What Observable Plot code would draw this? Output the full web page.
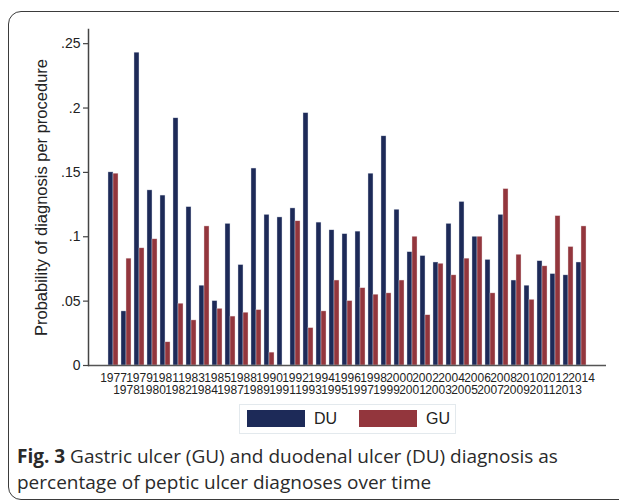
<!DOCTYPE html>
<html><head><meta charset="utf-8">
<script src="https://cdn.jsdelivr.net/npm/d3@7"></script>
<script src="https://cdn.jsdelivr.net/npm/@observablehq/plot@0.6"></script>
<style>
body{margin:0;background:#fff;width:619px;height:504px;overflow:hidden;position:relative;font-family:"Liberation Sans",Arial,sans-serif;}
#frame{position:absolute;left:8px;top:11px;width:700px;height:487px;border:1.5px solid #3b3b3b;border-radius:13px;}
#chart{position:absolute;left:0;top:0;}
#legend{position:absolute;left:239px;top:404px;width:217px;height:30px;border:1px solid #e3e9ed;box-sizing:border-box;font-family:"Liberation Sans",Arial,sans-serif;font-size:16px;color:#222;}
.sw{position:absolute;top:5px;width:58px;height:17px;}
.lt{position:absolute;top:5px;line-height:18px;}
#caption{position:absolute;left:17px;top:443px;font-family:"Open Sans",sans-serif;font-size:19px;line-height:26px;color:#2a2a2a;white-space:nowrap;}
</style></head>
<body>
<div id="frame"></div>
<div id="chart"></div>
<div id="legend"></div>
<div id="caption"></div>
<script>
const years = [1977,1978,1979,1980,1981,1982,1983,1984,1985,1987,1988,1989,1990,1991,1992,1993,1994,1995,1996,1997,1998,1999,2000,2001,2002,2003,2004,2005,2006,2007,2008,2009,2010,2011,2012,2013,2014];
const duValues = [0.150,0.042,0.243,0.136,0.132,0.192,0.123,0.062,0.050,0.110,0.078,0.153,0.117,0.115,0.122,0.196,0.111,0.105,0.102,0.104,0.149,0.178,0.121,0.088,0.085,0.080,0.110,0.127,0.100,0.082,0.117,0.066,0.062,0.081,0.071,0.070,0.080];
const guValues = [0.149,0.083,0.091,0.098,0.018,0.048,0.035,0.108,0.044,0.038,0.041,0.043,0.010,0,0.112,0.029,0.042,0.066,0.050,0.060,0.055,0.056,0.066,0.100,0.039,0.079,0.070,0.083,0.100,0.056,0.137,0.086,0.051,0.077,0.116,0.092,0.108];
const seriesNames = ["DU","GU"];
const seriesColors = ["#1d2a58","#93363d"];
const yTicks = [0,0.05,0.1,0.15,0.2,0.25];
const yTitle = "Probability of diagnosis per procedure";
const captionBold = "Fig. 3";
const captionLine1 = " Gastric ulcer (GU) and duodenal ulcer (DU) diagnosis as";
const captionLine2 = "percentage of peptic ulcer diagnoses over time";

const rows = years.map((y,i)=>({year:String(y), du:duValues[i], gu:guValues[i]}));
const W=619, ML=88, MR=13, pi=0.24, po=1.255;
const step=(W-ML-MR)/(years.length - pi + 2*po);
const half=step*(1-pi)/2;
const evenYears = years.filter((d,i)=>i%2===0).map(String);
const oddYears = years.filter((d,i)=>i%2===1).map(String);
const fmt = d => d===0 ? "0" : String(d).replace("0.",".");

const chart = Plot.plot({
  width:W, height:400, marginLeft:ML, marginRight:MR, marginTop:29, marginBottom:35,
  style:{fontFamily:'"Liberation Sans",Arial,sans-serif', color:"#222", background:"transparent", overflow:"visible"},
  x:{domain:years.map(String), paddingInner:pi, paddingOuter:po, axis:null},
  y:{domain:[0,0.261], axis:null},
  marks:[
    Plot.barY(rows,{x:"year", y:"du", fill:seriesColors[0], insetRight:half, stroke:"#d8dce6", strokeWidth:0.4}),
    Plot.barY(rows,{x:"year", y:"gu", fill:seriesColors[1], insetLeft:half, stroke:"#e6d8da", strokeWidth:0.4}),
    Plot.axisY({ticks:yTicks, tickFormat:fmt, tickSize:5, tickPadding:3, fontSize:14, label:null, stroke:"#444", strokeWidth:1.2}),
    Plot.axisX({ticks:evenYears, tickSize:0, tickPadding:8, fontSize:12, label:null}),
    Plot.axisX({ticks:oddYears, tickSize:0, tickPadding:20, fontSize:12, label:null}),
    Plot.text([yTitle],{text:d=>d, frameAnchor:"left", rotate:-90, dx:-53, lineAnchor:"top", textAnchor:"middle", fontSize:16.5, fill:"#222"}),
    Plot.ruleY([0],{stroke:"#555", strokeWidth:1.5}),
    Plot.frame({anchor:"left", stroke:"#444", strokeWidth:1.5})
  ]
});
document.getElementById("chart").appendChild(chart);

const lg = document.getElementById("legend");
const swLeft=[7,119], txLeft=[74,186];
seriesNames.forEach((n,i)=>{
  const s=document.createElement("div"); s.className="sw"; s.style.left=swLeft[i]+"px"; s.style.background=seriesColors[i]; lg.appendChild(s);
  const t=document.createElement("div"); t.className="lt"; t.style.left=txLeft[i]+"px"; t.textContent=n; lg.appendChild(t);
});

const cap = document.getElementById("caption");
const b=document.createElement("b"); b.textContent=captionBold; b.style.fontWeight="700";
cap.appendChild(b);
cap.appendChild(document.createTextNode(captionLine1));
cap.appendChild(document.createElement("br"));
cap.appendChild(document.createTextNode(captionLine2));
// fit first line width to ~541px
const r = document.createRange(); r.setStart(cap,0); r.setEnd(cap,2);
const w = r.getBoundingClientRect().width;
if (w>0) cap.style.fontSize = (19*541/w).toFixed(2)+"px";
</script>
</body></html>
